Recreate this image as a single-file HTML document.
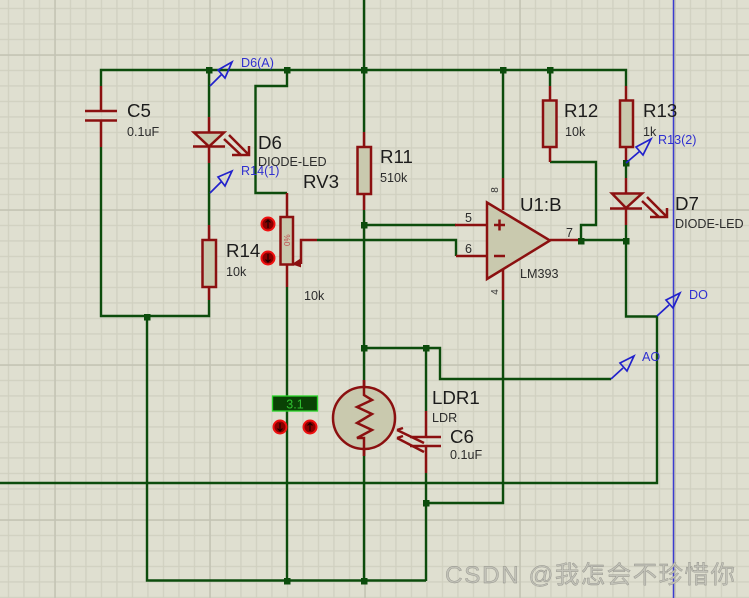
<!DOCTYPE html>
<html>
<head>
<meta charset="utf-8">
<style>
html,body{margin:0;padding:0;background:#dfdfd0}
svg{display:block;filter:blur(0.35px)}
text{font-family:"Liberation Sans","Noto Sans CJK SC",sans-serif}
.w{fill:none;stroke:#0c4c0c;stroke-width:2.4}
.r{fill:none;stroke:#8b1010;stroke-width:2.5}
.b{fill:#c9c9ae;stroke:#8b1010;stroke-width:2.5}
.a{fill:none;stroke:#2222cc;stroke-width:1.7}
.big{font-size:18.7px;fill:#1c1c1c}
.sm{font-size:12.6px;fill:#2c2c2c}
.bl{font-size:12.6px;fill:#3030d0}
.p{font-size:12.500px;fill:#2c2c2c}
.ar{fill:none;stroke:#200000;stroke-width:1.200}
</style>
</head>
<body>
<svg width="749" height="598" viewBox="0 0 749 598" xmlns="http://www.w3.org/2000/svg">
<defs>
<pattern id="g" width="15.5" height="15.5" patternUnits="userSpaceOnUse" x="7.8" y="7.8">
<path d="M0.5 0V15.5M0 0.5H15.5" stroke="#d0d0c0" stroke-width="1.5" fill="none"/>
</pattern>
<pattern id="G" width="155" height="155" patternUnits="userSpaceOnUse" x="54.3" y="54.3">
<path d="M0.5 0V155M0 0.5H155" stroke="#c3c3b4" stroke-width="2" fill="none"/>
</pattern>
</defs>
<rect width="749" height="598" fill="#dfdfd0"/>
<rect width="749" height="598" fill="url(#g)"/>
<rect width="749" height="598" fill="url(#G)"/>
<path d="M673.5 0V598" stroke="#3b3bd0" stroke-width="1.5" fill="none"/>

<!-- wires -->
<path class="w" d="M101 86V70H626V86"/>
<path class="w" d="M101 147V316H209V300"/>
<path class="w" d="M209 70V117M209 163V225"/>
<path class="w" d="M287 70V86H255.500V193H287"/>
<path class="w" d="M287 287V581"/>
<path class="w" d="M317 240H456V256"/>
<path class="w" d="M364 0V132M364 210V240M364 225H456"/>
<path class="w" d="M364 240V380M364 456V581"/>
<path class="w" d="M364 348H440V379H611"/>
<path class="w" d="M426 348V411M426 473V581"/>
<path class="w" d="M426 503H503V300M503 70V178"/>
<path class="w" d="M0 483H657V316.500H626V225"/>
<path class="w" d="M147 316V580.500H426"/>
<path class="w" d="M550 70V86M550 162H596V225H581V240H626"/>
<path class="w" d="M626 163V178"/>

<!-- C5 -->
<path class="r" d="M101 86V111M85 111H117M85 120.500H117M101 120.500V147"/>
<!-- D6 -->
<path class="r" d="M209 117V132M209 147V163M193 146.500H225"/>
<path class="b" d="M194 132.500H224L209 146.500Z"/>
<path class="r" d="M224 139L241 155M229 135L248 154M232 155H249V146"/>
<!-- R14 -->
<path class="r" d="M209 225V240M209 287V300"/>
<rect class="b" x="202.500" y="240" width="13.500" height="47"/>
<!-- RV3 -->
<path class="r" d="M287 193V217M287 264V287"/>
<rect class="b" x="280.500" y="217" width="12.500" height="47.500"/>
<text transform="translate(290,246) rotate(-90)" font-size="8" fill="#c05050">0%</text>
<path class="r" d="M301 264V240H317M294 264H301"/>
<path d="M294 264L300 260V266Z" fill="#8b1010" stroke="#8b1010" stroke-width="2"/>
<!-- R11 -->
<path class="r" d="M364 132V147M364 194V210"/>
<rect class="b" x="357.500" y="147" width="13.500" height="47"/>
<!-- R12 -->
<path class="r" d="M550 86V100M550 147V162"/>
<rect class="b" x="543" y="100.500" width="13.500" height="46.500"/>
<!-- R13 -->
<path class="r" d="M626 86V100M626 147V163"/>
<rect class="b" x="620" y="100.500" width="13" height="46.500"/>
<!-- D7 -->
<path class="r" d="M626 178V193M626 208V225M610 208.500H642"/>
<path class="b" d="M612 193.500H642L626 208Z"/>
<path class="r" d="M642 201L659 217M647 197L666 216M650 217H667V208"/>
<!-- Op amp -->
<path class="r" d="M503 178V210M503 270V300M455 225H487M456 256H487M550 240H581"/>
<path class="b" d="M487 202.500V279L550 240.500Z"/>
<path class="r" d="M494 225H505M499.500 219.500V230.500M494 256H505"/>
<text class="p" x="465" y="222">5</text>
<text class="p" x="465" y="253">6</text>
<text class="p" x="566" y="237">7</text>
<text transform="translate(498,190) rotate(-90)" font-size="10" fill="#333" text-anchor="middle">8</text>
<text transform="translate(498,292) rotate(-90)" font-size="10" fill="#333" text-anchor="middle">4</text>
<!-- LDR -->
<path class="r" d="M364 380V456"/>
<circle class="b" cx="364" cy="418" r="31"/>
<path class="r" d="M364 380V395L372 400L357 407L372 414L357 423L372 430L357 438H364V456"/>
<path class="r" d="M397 430L424 443M397 438L424 452M397 430L403 428M397 438L403 436"/>
<!-- C6 -->
<path class="r" d="M426 411V437M410 437H441M410 446H441M426 446V473"/>

<!-- nodes -->
<g fill="#0c4c0c">
<rect x="206" y="67" width="6.500" height="6.500"/>
<rect x="284" y="67" width="6.500" height="6.500"/>
<rect x="361" y="67" width="6.500" height="6.500"/>
<rect x="500" y="67" width="6.500" height="6.500"/>
<rect x="547" y="67" width="6.500" height="6.500"/>
<rect x="144" y="314" width="6.500" height="6.500"/>
<rect x="361" y="222" width="6.500" height="6.500"/>
<rect x="361" y="345" width="6.500" height="6.500"/>
<rect x="423" y="345" width="6.500" height="6.500"/>
<rect x="423" y="500" width="6.500" height="6.500"/>
<rect x="284" y="578" width="6.500" height="6.500"/>
<rect x="361" y="578" width="6.500" height="6.500"/>
<rect x="578" y="238" width="6.500" height="6.500"/>
<rect x="623" y="238" width="6.500" height="6.500"/>
<rect x="623" y="160" width="6.500" height="6.500"/>
</g>

<!-- probes -->
<path class="a" d="M210 86L222 74M218 70L232 62L225 78Z"/>
<path class="a" d="M210 193L222 181M218 177L232 171L225 186Z"/>
<path class="a" d="M626 163L640 151M636 147L651 139L643 155Z"/>
<path class="a" d="M611 379L623 368M620 363L634 356L627 371Z"/>
<path class="a" d="M657 316L669 305M666 300L680 293L673 308Z"/>

<!-- red indicators -->
<g fill="#8a0000" stroke="#f01010" stroke-width="2">
<circle cx="268" cy="224" r="6.500"/>
<circle cx="268" cy="258" r="6.500"/>
<circle cx="280" cy="427" r="6.500"/>
<circle cx="310" cy="427" r="6.500"/>
</g>
<path class="ar" d="M268 228V220M265.500 222.500L268 220L270.500 222.500"/>
<path class="ar" d="M268 254V262M265.500 259.500L268 262L270.500 259.500"/>
<path class="ar" d="M280 423V431M277.500 428.500L280 431L282.500 428.500"/>
<path class="ar" d="M310 431V423M307.500 425.500L310 423L312.500 425.500"/>
<!-- voltmeter -->
<rect x="272.500" y="396" width="45" height="15" fill="#0a4205" stroke="#2bd62b" stroke-width="1.300"/>
<text x="295" y="408.500" font-size="12.500" fill="#30c030" text-anchor="middle">3.1</text>

<!-- labels -->
<text class="big" x="127" y="117">C5</text>
<text class="sm" x="127" y="136">0.1uF</text>
<text class="big" x="258" y="149">D6</text>
<text class="sm" x="258" y="166">DIODE-LED</text>
<text class="big" x="303" y="188">RV3</text>
<text class="big" x="226" y="257">R14</text>
<text class="sm" x="226" y="276">10k</text>
<text class="sm" x="304" y="300">10k</text>
<text class="big" x="380" y="163">R11</text>
<text class="sm" x="380" y="182">510k</text>
<text class="big" x="564" y="117">R12</text>
<text class="sm" x="565" y="136">10k</text>
<text class="big" x="643" y="117">R13</text>
<text class="sm" x="643" y="136">1k</text>
<text class="big" x="520" y="211">U1:B</text>
<text class="sm" x="520" y="278">LM393</text>
<text class="big" x="675" y="210">D7</text>
<text class="sm" x="675" y="228">DIODE-LED</text>
<text class="big" x="432" y="404">LDR1</text>
<text class="sm" x="432" y="422">LDR</text>
<text class="big" x="450" y="443">C6</text>
<text class="sm" x="450" y="459">0.1uF</text>
<text class="bl" x="241" y="67">D6(A)</text>
<text class="bl" x="241" y="175">R14(1)</text>
<text class="bl" x="658" y="144">R13(2)</text>
<text class="bl" x="642" y="361">AO</text>
<text class="bl" x="689" y="299">DO</text>

<!-- watermark -->
<text x="445" y="583" font-size="24.500" fill="#c2c2b8" stroke="#8f8f88" stroke-width="0.4" textLength="290" lengthAdjust="spacing">CSDN @我怎会不珍惜你</text>
</svg>
</body>
</html>
